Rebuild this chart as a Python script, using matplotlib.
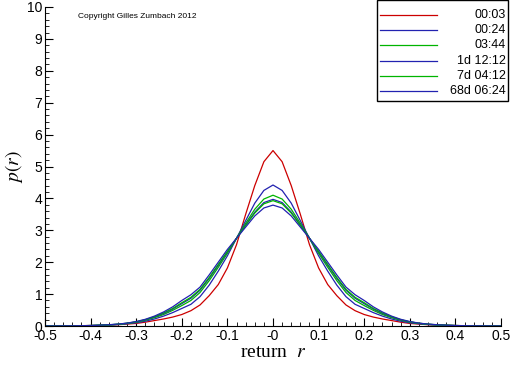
import numpy as np
import matplotlib
matplotlib.use("Agg")
import matplotlib.pyplot as plt
from matplotlib.ticker import MultipleLocator
from matplotlib.patches import Rectangle
from matplotlib.lines import Line2D

# return grid, -0.5 .. 0.5 in steps of 0.02
r = np.round(np.arange(-25, 26) * 0.02, 2)

p_0003 = [0, 0, 0, 0.005, 0.01, 0.015, 0.02, 0.03, 0.04, 0.06, 0.08, 0.12, 0.17, 0.22, 0.28, 0.36, 0.48, 0.66, 0.95,
          1.30, 1.82, 2.55, 3.50, 4.40, 5.15, 5.50, 5.15, 4.40, 3.50, 2.55, 1.82, 1.30, 0.95, 0.66, 0.48, 0.36,
          0.28, 0.22, 0.17, 0.12, 0.08, 0.06, 0.04, 0.03, 0.02, 0.015, 0.01, 0.005, 0, 0, 0]
p_0024 = [0.001, 0.002, 0.003, 0.005, 0.008, 0.012, 0.02, 0.03, 0.045, 0.07, 0.10, 0.15, 0.22, 0.31, 0.42, 0.55, 0.68,
          0.92, 1.28, 1.72, 2.20, 2.75, 3.30, 3.85, 4.25, 4.42, 4.25, 3.85, 3.30, 2.75, 2.20, 1.72, 1.28, 0.92, 0.68,
          0.55, 0.42, 0.31, 0.22, 0.15, 0.10, 0.07, 0.045, 0.03, 0.02, 0.012, 0.008, 0.005, 0.003, 0.002, 0.001]
p_0344 = [0.001, 0.002, 0.003, 0.005, 0.009, 0.014, 0.022, 0.035, 0.05, 0.08, 0.12, 0.18, 0.26, 0.36, 0.49, 0.64, 0.80,
          1.05, 1.42, 1.84, 2.28, 2.75, 3.22, 3.66, 3.98, 4.10, 3.98, 3.66, 3.22, 2.75, 2.28, 1.84, 1.42, 1.05, 0.80,
          0.64, 0.49, 0.36, 0.26, 0.18, 0.12, 0.08, 0.05, 0.035, 0.022, 0.014, 0.009, 0.005, 0.003, 0.002, 0.001]
p_1d = [0.001, 0.002, 0.003, 0.005, 0.009, 0.014, 0.022, 0.035, 0.055, 0.085, 0.13, 0.19, 0.28, 0.39, 0.53, 0.70, 0.87,
        1.12, 1.49, 1.90, 2.32, 2.75, 3.17, 3.57, 3.87, 3.97, 3.87, 3.57, 3.17, 2.75, 2.32, 1.90, 1.49, 1.12, 0.87,
        0.70, 0.53, 0.39, 0.28, 0.19, 0.13, 0.085, 0.055, 0.035, 0.022, 0.014, 0.009, 0.005, 0.003, 0.002, 0.001]
p_7d = [0.001, 0.002, 0.003, 0.005, 0.009, 0.015, 0.023, 0.037, 0.057, 0.088, 0.13, 0.20, 0.29, 0.41, 0.55, 0.73, 0.90,
        1.15, 1.52, 1.93, 2.34, 2.75, 3.15, 3.54, 3.83, 3.93, 3.83, 3.54, 3.15, 2.75, 2.34, 1.93, 1.52, 1.15, 0.90,
        0.73, 0.55, 0.41, 0.29, 0.20, 0.13, 0.088, 0.057, 0.037, 0.023, 0.015, 0.009, 0.005, 0.003, 0.002, 0.001]
p_68d = [0.001, 0.002, 0.004, 0.006, 0.01, 0.015, 0.025, 0.04, 0.06, 0.09, 0.14, 0.21, 0.31, 0.44, 0.60, 0.80, 0.98,
         1.22, 1.60, 2.00, 2.40, 2.75, 3.10, 3.45, 3.70, 3.79, 3.70, 3.45, 3.10, 2.75, 2.40, 2.00, 1.60, 1.22, 0.98,
         0.80, 0.60, 0.44, 0.31, 0.21, 0.14, 0.09, 0.06, 0.04, 0.025, 0.015, 0.01, 0.006, 0.004, 0.002, 0.001]

labels = ["00:03", "00:24", "03:44", "1d 12:12", "7d 04:12", "68d 06:24"]
series = [p_0003, p_0024, p_0344, p_1d, p_7d, p_68d]
colors = ["#cc0000", "#2222b0", "#00b400", "#2222b0", "#00b400", "#2222b0"]

plt.rcParams["font.family"] = ["Liberation Sans", "DejaVu Sans"]
plt.rcParams["axes.unicode_minus"] = False
plt.rcParams["mathtext.fontset"] = "stix"

fig = plt.figure(figsize=(5.12, 3.66), dpi=100)
ax = fig.add_axes([45 / 512, 40 / 366, 456 / 512, 319 / 366])

for y, c in zip(series, colors):
    ax.plot(r, y, color=c, lw=0.9)

ax.set_xlim(-0.5, 0.5)
ax.set_ylim(0, 10)
for s in ["top", "right"]:
    ax.spines[s].set_visible(False)
ax.xaxis.set_major_locator(MultipleLocator(0.1))
ax.xaxis.set_minor_locator(MultipleLocator(0.02))
ax.yaxis.set_major_locator(MultipleLocator(1))
ax.yaxis.set_minor_locator(MultipleLocator(0.2))
ax.tick_params(which="both", direction="in", labelsize=10, pad=2)
ax.tick_params(which="major", length=6)
ax.tick_params(which="minor", length=3)
ticks = np.round(np.arange(-0.5, 0.51, 0.1), 1)
ax.set_xticks(ticks)
ax.set_xticklabels([f"{v:g}" for v in ticks])

ax.set_xlabel("return  $r$", fontsize=14, family="Liberation Serif", labelpad=1)
ax.set_ylabel("$p(r)$", fontsize=14, labelpad=1)

fig.text(78 / 512, 1 - 17 / 366, "Copyright Gilles Zumbach 2012", fontsize=6, va="center")

# legend box drawn in figure pixels
fig.patches.append(Rectangle((377 / 512, 1 - 101 / 366), 131 / 512, 101 / 366, transform=fig.transFigure,
                             fill=False, edgecolor="black", lw=1))
for i, (lab, c) in enumerate(zip(labels, colors)):
    yy = 1 - (15 + i * 15.2) / 366
    fig.lines.append(Line2D([380 / 512, 437 / 512], [yy, yy], transform=fig.transFigure, color=c, lw=0.9))
    fig.text(506 / 512, yy, lab, ha="right", va="center", fontsize=9)

fig.savefig("out.png", dpi=100)
